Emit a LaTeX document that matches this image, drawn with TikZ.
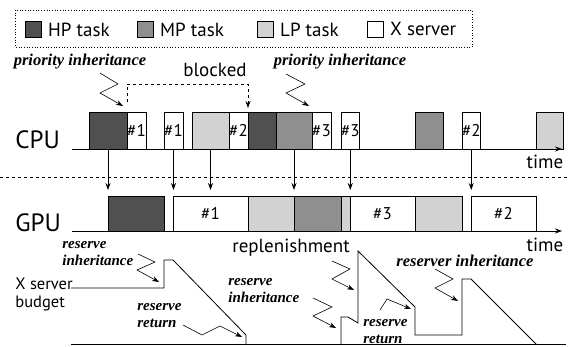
\documentclass[tikz,border=0pt]{standalone}
\usepackage{fontspec}
\setmainfont{PT Sans}
\newfontfamily\lblfont{Liberation Serif}
\usetikzlibrary{arrows.meta}
\definecolor{hpc}{HTML}{505050}
\definecolor{mpc}{HTML}{8F8F8F}
\definecolor{lpc}{HTML}{D2D2D2}
\newcommand\mybox[7]{\node[tbox,fill=#6,minimum width={#3pt-#2pt},minimum height=#5pt] (#1) at (#2,#4) {#7};}
\begin{document}
\begin{tikzpicture}[x=1pt,y=-1pt, line width=0.8pt,
 tbox/.style={draw, inner sep=0pt, outer sep=0pt, anchor=south west, font=\fontsize{17}{17}\selectfont},
 lab/.style={font=\lblfont\bfseries\itshape\fontsize{16.5}{14}\selectfont, inner sep=0pt, align=left},
 labtwo/.style={font=\lblfont\bfseries\itshape\fontsize{15}{17}\selectfont, inner sep=0pt, align=left},
 txt/.style={font=\fontsize{19}{19}\selectfont, inner sep=0pt},
 big/.style={font=\fontsize{25}{25}\selectfont, inner sep=0pt},
 tip/.style={-{Stealth[length=7pt,width=5pt]}},
 zig/.style={line width=0.6pt, -{Stealth[length=7pt,width=5pt]}},
 leg/.style={draw, minimum size=16pt, inner sep=0pt, anchor=north west}
]
\useasboundingbox (0,0) rectangle (568,346);
% legend
\draw[dotted, line width=0.7pt] (15,10) rectangle (472,47);
\node[leg, fill=hpc] (lhp) at (25,21) {};
\node[txt, anchor=west] (thp) at ([xshift=6pt]lhp.east) {HP task};
\node[leg, fill=mpc] (lmp) at (137,21) {};
\node[txt, anchor=west] (tmp) at ([xshift=6pt]lmp.east) {MP task};
\node[leg, fill=lpc] (llp) at (257,21) {};
\node[txt, anchor=west] (tlp) at ([xshift=6pt]llp.east) {LP task};
\node[leg, fill=white] (lxs) at (367,21) {};
\node[txt, anchor=west] (txs) at ([xshift=6pt]lxs.east) {X server};
% CPU
\node[big, anchor=base west] (cpu) at (15,148) {CPU};
\mybox{c1}{89}{127}{149}{37}{hpc}{}
\mybox{c2}{127}{146}{149}{37}{white}{\#1}
\mybox{c3}{164}{183}{149}{37}{white}{\#1}
\mybox{c4}{192}{229}{149}{37}{lpc}{}
\mybox{c5}{229}{248}{149}{37}{white}{\#2}
\mybox{c6}{248}{276}{149}{37}{hpc}{}
\mybox{c7}{276}{312}{149}{37}{mpc}{}
\mybox{c8}{312}{331}{149}{37}{white}{\#3}
\mybox{c9}{341}{359}{149}{37}{white}{\#3}
\mybox{c10}{415}{443}{149}{37}{mpc}{}
\mybox{c11}{462}{480}{149}{37}{white}{\#2}
\mybox{c12}{536}{563}{149}{37}{lpc}{}
\coordinate (ca0) at (72,149);
\coordinate (ca1) at (562,149);
\draw[tip] (ca0) -- (ca1);
\node[txt] (time1) at (545,162) {time};
% labels top
\node[lab] (pi1) at (80,62) {priority inheritance};
\node[lab] (pi2) at (340,62) {priority inheritance};
\node[txt] (blk) at (215,70) {blocked};
\draw[zig] (100,73) -- (118,84) -- (100,93) -- (123,106);
\draw[zig] (286,74) -- (305,84) -- (286,93) -- (309,106);
\draw[dashed, tip] ([yshift=10pt]c2.north west) |- ([yshift=28pt]c5.north east) -- ([yshift=4pt]c5.north east);
% separator
\coordinate (s0) at (0,177);
\coordinate (s1) at (568,177);
\draw[dashed] (s0) -- (s1);
% GPU
\node[big, anchor=base west] (gpu) at (15,231) {GPU};
\mybox{g1}{108}{164}{231}{35}{hpc}{}
\mybox{g2}{173}{248}{231}{35}{white}{\#1}
\mybox{g3}{248}{294}{231}{35}{lpc}{}
\mybox{g4}{294}{341}{231}{35}{mpc}{}
\mybox{g5}{341}{350}{231}{35}{lpc}{}
\mybox{g6}{350}{415}{231}{35}{white}{\#3}
\mybox{g7}{415}{462}{231}{35}{lpc}{}
\mybox{g8}{471}{536}{231}{35}{white}{\#2}
\coordinate (ga0) at (72,231);
\coordinate (ga1) at (562,231);
\draw[tip] (ga0) -- (ga1);
\node[txt] (time2) at (545,245) {time};
% CPU -> GPU arrows
\foreach \c in {c1,c3,c4,c7,c9,c11}
  \draw[tip] (\c.south) -- ([yshift=6pt]\c.south |- g1.north);
% budget
\node[font=\fontsize{16.5}{18}\selectfont, inner sep=0pt, align=left, anchor=north west] (xs) at (15,278) {X server\\budget};
\coordinate (b0) at (71,288);
\draw (b0) -- (164,288) -- (164,260) -- (173,260) -- (246,335) -- (246,344);
\draw (341,344) -- (341,317) -- (348,317) -- (358,323) -- (358,251) -- (415,307) -- (415,335) -- (462,335) -- (462,279) -- (471,279) -- (536,344);
\coordinate (ba0) at (71,344);
\coordinate (ba1) at (566,344);
\draw (ba0) -- (ba1);
% bottom labels
\node[labtwo, anchor=west] (ri1) at (62,254) {reserve\\inheritance};
\node[labtwo, anchor=west] (rr1) at (137,315.5) {reserve\\return};
\node[txt] (rep) at (291,248) {replenishment};
\node[labtwo, anchor=west] (ri2) at (228,290.5) {reserve\\inheritance};
\node[labtwo, anchor=west] (rr2) at (363,331.5) {reserve\\return};
\node[lab] (ri3) at (465,261) {reserver inheritance};
\draw[zig] (138,254) -- (155,262) -- (137,270) -- (159,282);
\draw[zig] (183,325) -- (202,335) -- (220,326) -- (242,337);
\draw[zig] (332,261) -- (350,269) -- (332,279) -- (354,290);
\draw[zig] (313,298) -- (332,307) -- (313,316) -- (336,328);
\draw[zig] (380,310) -- (387,299) -- (411,309);
\draw[zig] (435,269) -- (453,279) -- (435,288) -- (458,301);
\end{tikzpicture}
\end{document}
